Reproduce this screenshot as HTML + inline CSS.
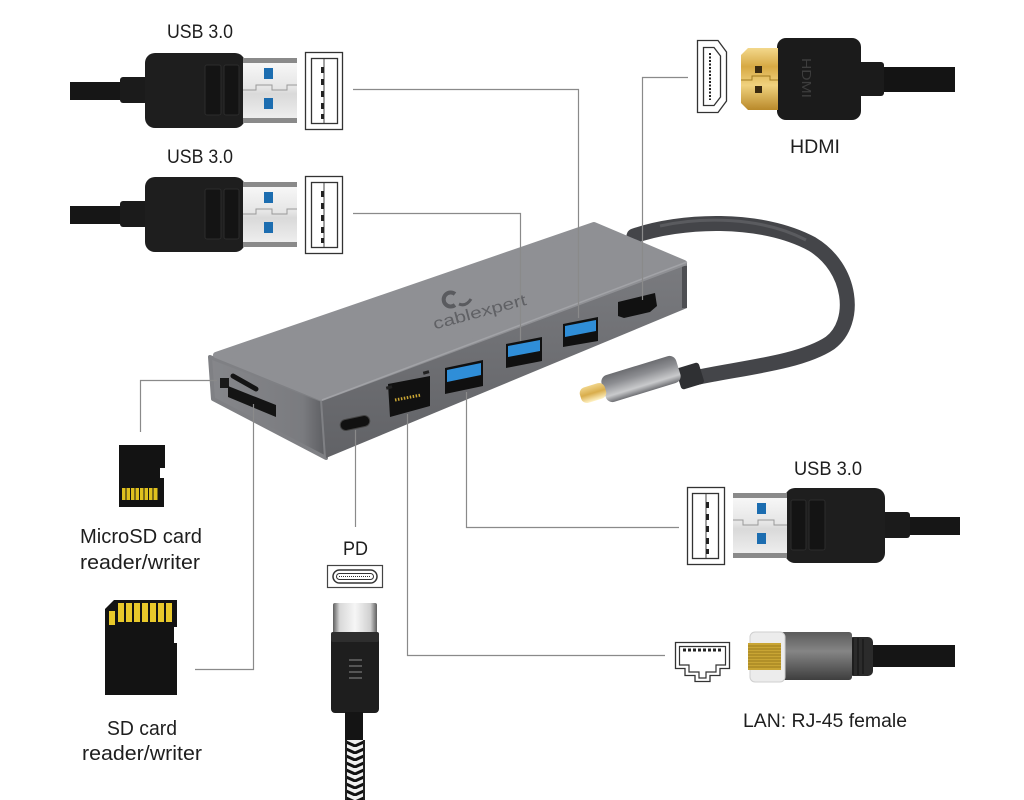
<!DOCTYPE html>
<html><head><meta charset="utf-8"><style>
html,body{margin:0;padding:0;background:#fff;}
svg{display:block;}
text{font-family:"Liberation Sans",sans-serif;}
</style></head><body>
<svg width="1024" height="800" viewBox="0 0 1024 800" xmlns="http://www.w3.org/2000/svg">
<defs>
 <linearGradient id="usbmetal" x1="0" y1="0" x2="0" y2="1">
  <stop offset="0" stop-color="#fafafa"/><stop offset="0.45" stop-color="#e6e6e6"/><stop offset="0.55" stop-color="#d9d9d9"/><stop offset="1" stop-color="#f2f2f2"/>
 </linearGradient>
 <linearGradient id="gold" x1="0" y1="0" x2="0" y2="1">
  <stop offset="0" stop-color="#f3d88c"/><stop offset="0.3" stop-color="#d7a944"/><stop offset="0.6" stop-color="#f0d27e"/><stop offset="1" stop-color="#b9892a"/>
 </linearGradient>
 <linearGradient id="goldtip" x1="0" y1="0" x2="0" y2="1">
  <stop offset="0" stop-color="#f0d48a"/><stop offset="0.5" stop-color="#d9ad4c"/><stop offset="1" stop-color="#fff2c4"/>
 </linearGradient>
 <linearGradient id="ferrule" x1="0" y1="0" x2="0" y2="1">
  <stop offset="0" stop-color="#6c6d71"/><stop offset="0.35" stop-color="#8d8e92"/><stop offset="0.75" stop-color="#c9cacc"/><stop offset="1" stop-color="#6e6f73"/>
 </linearGradient>
 <linearGradient id="front" x1="0" y1="0" x2="0" y2="1">
  <stop offset="0" stop-color="#7a7b7f"/><stop offset="1" stop-color="#616266"/>
 </linearGradient>
 <linearGradient id="leftf" x1="0" y1="0" x2="1" y2="0">
  <stop offset="0" stop-color="#86878b"/><stop offset="0.8" stop-color="#7a7b7f"/><stop offset="1" stop-color="#5c5d61"/>
 </linearGradient>
 <linearGradient id="cmetal" x1="0" y1="0" x2="1" y2="0">
  <stop offset="0" stop-color="#5e5e5e"/><stop offset="0.15" stop-color="#d8d8d8"/><stop offset="0.5" stop-color="#f6f6f6"/><stop offset="0.85" stop-color="#d0d0d0"/><stop offset="1" stop-color="#5e5e5e"/>
 </linearGradient>
 <linearGradient id="rjbody" x1="0" y1="0" x2="0" y2="1">
  <stop offset="0" stop-color="#5b5b5b"/><stop offset="0.4" stop-color="#858585"/><stop offset="1" stop-color="#3e3e3e"/>
 </linearGradient>
 <pattern id="braid" x="345" y="740" width="20" height="7" patternUnits="userSpaceOnUse">
  <rect width="20" height="7" fill="#f0f0f0"/>
  <path d="M-1,1 L10,6 L21,1" stroke="#111" stroke-width="3" fill="none"/>
 </pattern>
</defs>

<rect width="1024" height="800" fill="#ffffff"/>

<!-- USB plug (left, template) -->
<g id="usbplug">
 <rect x="70" y="82" width="55" height="18" fill="#161616"/>
 <rect x="120" y="77" width="32" height="26" rx="3" fill="#1b1b1b"/>
 <rect x="145" y="53" width="100" height="75" rx="10" fill="#1e1e1e"/>
 <rect x="205" y="65" width="16" height="50" rx="2" fill="#141414" stroke="#2c2c2c"/>
 <rect x="224" y="65" width="15" height="50" rx="2" fill="#141414" stroke="#2c2c2c"/>
 <rect x="243" y="58" width="54" height="65" fill="url(#usbmetal)"/>
 <rect x="243" y="58" width="54" height="5" fill="#8a8a8a"/>
 <rect x="243" y="118" width="54" height="5" fill="#8a8a8a"/>
 <path d="M243,90 H256 V85 H272 V90 H287 V85 H297" stroke="#9a9a9a" fill="none"/>
 <rect x="264" y="68" width="9" height="11" fill="#1c6db0"/>
 <rect x="264" y="98" width="9" height="11" fill="#1c6db0"/>
 <rect x="305.5" y="52.5" width="37" height="77" fill="#fff" stroke="#333" stroke-width="1.3"/>
 <rect x="311.5" y="58.5" width="26" height="65" fill="none" stroke="#333" stroke-width="1.3"/>
 <line x1="324" y1="59" x2="324" y2="123" stroke="#444"/>
 <rect x="321" y="67" width="3" height="6" fill="#222"/>
 <rect x="321" y="79" width="3" height="6" fill="#222"/>
 <rect x="321" y="91" width="3" height="6" fill="#222"/>
 <rect x="321" y="103" width="3" height="6" fill="#222"/>
 <rect x="321" y="114" width="3" height="5" fill="#222"/>
</g>
<use href="#usbplug" transform="translate(0,124)"/>
<use href="#usbplug" transform="translate(1030,435) scale(-1,1)"/>

<!-- HDMI -->
<rect x="878" y="67" width="77" height="25" fill="#141414"/>
<rect x="858" y="62" width="26" height="34" rx="3" fill="#1b1b1b"/>
<rect x="777" y="38" width="84" height="82" rx="9" fill="#1b1b1b"/>
<text transform="translate(802,58) rotate(90)" font-size="13" fill="#3d3d3d" textLength="40" lengthAdjust="spacingAndGlyphs">HDMI</text>
<path d="M741,55 L748,48 H778 V110 H748 L741,103 Z" fill="url(#gold)"/>
<path d="M741,80 H752 V76 H770 V80 H778" stroke="#a07a20" fill="none"/>
<rect x="755" y="66" width="7" height="7" fill="#3a2a10"/>
<rect x="755" y="86" width="7" height="7" fill="#3a2a10"/>
<path d="M697.5,40.5 H718 L726.5,52 V101 L718,112.5 H697.5 Z" fill="#fff" stroke="#333" stroke-width="1.3"/>
<path d="M703.5,47.5 H714 L720.5,56 V97 L714,105.5 H703.5 Z" fill="none" stroke="#333" stroke-width="1.3"/>
<line x1="710" y1="53" x2="710" y2="100" stroke="#222" stroke-width="2" stroke-dasharray="2,1.5"/>

<!-- RJ45 -->
<rect x="868" y="645" width="87" height="22" fill="#151515"/>
<rect x="848" y="637" width="25" height="39" rx="5" fill="#2b2b2b"/>
<path d="M853,638 V675 M858,638 V675 M863,639 V674" stroke="#1a1a1a" stroke-width="1.5"/>
<rect x="780" y="632" width="72" height="48" rx="3" fill="url(#rjbody)"/>
<rect x="750" y="632" width="35" height="50" rx="5" fill="#ececec" stroke="#cfcfcf"/>
<rect x="748" y="643" width="33" height="27" fill="#c9a534"/>
<path d="M748,646 H781 M748,649 H781 M748,652 H781 M748,655 H781 M748,658 H781 M748,661 H781 M748,664 H781 M748,667 H781" stroke="#8a6d14" stroke-width="0.8"/>
<path d="M675.5,642.5 H729.5 V668.5 H720 V675.5 H710 V681.5 H695 V675.5 H685 V668.5 H675.5 Z" fill="#fff" stroke="#333" stroke-width="1.3"/>
<path d="M679.5,646.5 H725.5 V665 H716 V672 H706 V678 H699 V672 H689 V665 H679.5 Z" fill="none" stroke="#333" stroke-width="1.2"/>
<line x1="683" y1="650" x2="722" y2="650" stroke="#222" stroke-width="3" stroke-dasharray="3,2"/>

<!-- hub cable -->
<path d="M634,236 C680,220 760,216 812,244 C852,268 858,322 830,343 C800,363 740,368 694,378" stroke="#444549" stroke-width="15" fill="none" stroke-linecap="round"/>
<path d="M660,226 C700,217 760,216 806,240" stroke="#5a5b5f" stroke-width="3" fill="none"/>
<g transform="translate(690,376) rotate(-17)">
 <rect x="-12" y="-11" width="24" height="22" rx="3" fill="#2f3033"/>
</g>
<g transform="translate(641,379) rotate(-17)">
 <rect x="-39" y="-14" width="78" height="28" rx="7" fill="url(#ferrule)"/>
</g>
<g transform="translate(593,393) rotate(-17)">
 <rect x="-13" y="-8" width="26" height="16" rx="6" fill="url(#goldtip)"/>
</g>

<!-- hub -->
<polygon points="210,357 322,400 326,458 213,399" fill="url(#leftf)" stroke="#7f8084" stroke-width="4" stroke-linejoin="round"/>
<polygon points="322,400 687,262 687,308 326,458" fill="url(#front)"/>
<rect x="682" y="266" width="5" height="42" fill="#4e4f53"/>
<polygon points="216,355 594,225 684,263 322,398" fill="#8f9094" stroke="#8f9094" stroke-width="6" stroke-linejoin="round"/>
<line x1="322" y1="400" x2="687" y2="262" stroke="#a2a3a7" stroke-width="1.5"/>
<!-- logo -->
<path d="M455,294 A7,7 0 1,0 455,305" stroke="#5a5b5f" stroke-width="4" fill="none"/>
<path d="M459,304 q7,3 12,-5" stroke="#5a5b5f" stroke-width="3" fill="none"/>
<text transform="translate(481,317) rotate(-15)" text-anchor="middle" font-size="16" fill="#606165" textLength="96" lengthAdjust="spacingAndGlyphs">cablexpert</text>
<!-- ports -->
<polygon points="445,368 483,360 483,386 445,394" fill="#101010"/>
<polygon points="447,370 481,363 481,375 447,382" fill="#2f8ed8"/>
<polygon points="506,344 542,337 542,361 506,368" fill="#101010"/>
<polygon points="508,346 540,340 540,351 508,357" fill="#2f8ed8"/>
<polygon points="563,324 598,317 598,341 563,347" fill="#101010"/>
<polygon points="565,326 596,320 596,331 565,337" fill="#2f8ed8"/>
<polygon points="618,302 655,293 657,306 650,312 624,318 618,316" fill="#111"/>
<polygon points="388,384 430,376 430,406 390,417" fill="#111"/>
<path d="M395,400 L421,395" stroke="#c9a534" stroke-width="3" stroke-dasharray="1.5,1.5"/>
<rect x="386" y="386" width="6" height="3" fill="#222" transform="rotate(-15 389 387)"/>
<rect x="423" y="371" width="6" height="3" fill="#222" transform="rotate(-15 426 372)"/>
<g transform="translate(355,423) rotate(-12)"><rect x="-15" y="-5.5" width="30" height="11" rx="5.5" fill="#111" stroke="#444"/></g>
<rect x="220" y="378" width="9" height="10" fill="#1a1a1a"/>
<path d="M233,376 L256,389" stroke="#141414" stroke-width="5" stroke-linecap="round"/>
<polygon points="228,386 276,405 276,417 228,397" fill="#141414"/>

<!-- connector lines -->
<g stroke="#8a8a8a" stroke-width="1.2" fill="none">
 <path d="M353,89.5 H578.5 V318"/>
 <path d="M353,213.5 H520.5 V341"/>
 <path d="M688,77.5 H642.5 V300"/>
 <path d="M466.5,392 V527.5 H679"/>
 <path d="M407.5,414 V655.5 H665"/>
 <path d="M355.5,430 V527"/>
 <path d="M253.5,404 V669.5 H195"/>
 <path d="M217,380.5 H140.5 V432"/>
</g>

<!-- microSD -->
<path d="M119,445 H165 V468 H160 V478 H164 V507 H119 Z" fill="#131313"/>
<g fill="#e0c11e">
 <rect x="122" y="488" width="3.5" height="12"/><rect x="126.5" y="488" width="3.5" height="12"/>
 <rect x="131" y="488" width="3.5" height="12"/><rect x="135.5" y="488" width="3.5" height="12"/>
 <rect x="140" y="488" width="3.5" height="12"/><rect x="144.5" y="488" width="3.5" height="12"/>
 <rect x="149" y="488" width="3.5" height="12"/><rect x="153.5" y="488" width="4" height="12"/>
</g>

<!-- SD -->
<path d="M114,600 H177 V627 H174 V643 H177 V695 H105 V609 Z" fill="#131313"/>
<g fill="#e8c82a">
 <rect x="109" y="611" width="6" height="14"/>
 <rect x="118" y="603" width="6" height="19"/><rect x="126" y="603" width="6" height="19"/>
 <rect x="134" y="603" width="6" height="19"/><rect x="142" y="603" width="6" height="19"/>
 <rect x="150" y="603" width="6" height="19"/><rect x="158" y="603" width="6" height="19"/>
 <rect x="166" y="603" width="6" height="19"/>
</g>

<!-- USB-C PD -->
<rect x="327.5" y="565.5" width="55" height="22" fill="#fff" stroke="#444" stroke-width="1.2"/>
<rect x="333" y="570" width="44" height="13" rx="6.5" fill="none" stroke="#333" stroke-width="1.5"/>
<rect x="336.5" y="573.5" width="37" height="6" rx="3" fill="none" stroke="#333"/>
<line x1="339" y1="576.5" x2="371" y2="576.5" stroke="#333" stroke-dasharray="1,1"/>
<rect x="333" y="603" width="44" height="32" rx="2" fill="url(#cmetal)"/>
<rect x="331" y="632" width="48" height="81" rx="4" fill="#1e1e1e"/>
<rect x="331" y="632" width="48" height="10" rx="2" fill="#2e2e2e"/>
<g fill="#555"><rect x="349" y="659" width="13" height="2"/><rect x="349" y="665" width="13" height="2"/><rect x="349" y="671" width="13" height="2"/><rect x="349" y="677" width="13" height="2"/></g>
<rect x="345" y="712" width="18" height="30" fill="#141414"/>
<rect x="345" y="740" width="20" height="60" fill="url(#braid)"/>
<rect x="345" y="740" width="2" height="60" fill="#222"/>
<rect x="363" y="740" width="2" height="60" fill="#222"/>

<!-- labels -->
<g fill="#1e1e1e" font-size="19">
 <text x="167" y="38" textLength="66" lengthAdjust="spacingAndGlyphs">USB 3.0</text>
 <text x="167" y="163" textLength="66" lengthAdjust="spacingAndGlyphs">USB 3.0</text>
 <text x="790" y="153" textLength="50" lengthAdjust="spacingAndGlyphs">HDMI</text>
 <text x="794" y="475" textLength="68" lengthAdjust="spacingAndGlyphs">USB 3.0</text>
 <text x="743" y="727" textLength="164" lengthAdjust="spacingAndGlyphs">LAN: RJ-45 female</text>
 <text x="343" y="555" textLength="25" lengthAdjust="spacingAndGlyphs">PD</text>
 <text x="80" y="543" font-size="20" textLength="122" lengthAdjust="spacingAndGlyphs">MicroSD card</text>
 <text x="80" y="569" font-size="20" textLength="120" lengthAdjust="spacingAndGlyphs">reader/writer</text>
 <text x="107" y="735" font-size="20" textLength="70" lengthAdjust="spacingAndGlyphs">SD card</text>
 <text x="82" y="760" font-size="20" textLength="120" lengthAdjust="spacingAndGlyphs">reader/writer</text>
</g>
</svg>
</body></html>
